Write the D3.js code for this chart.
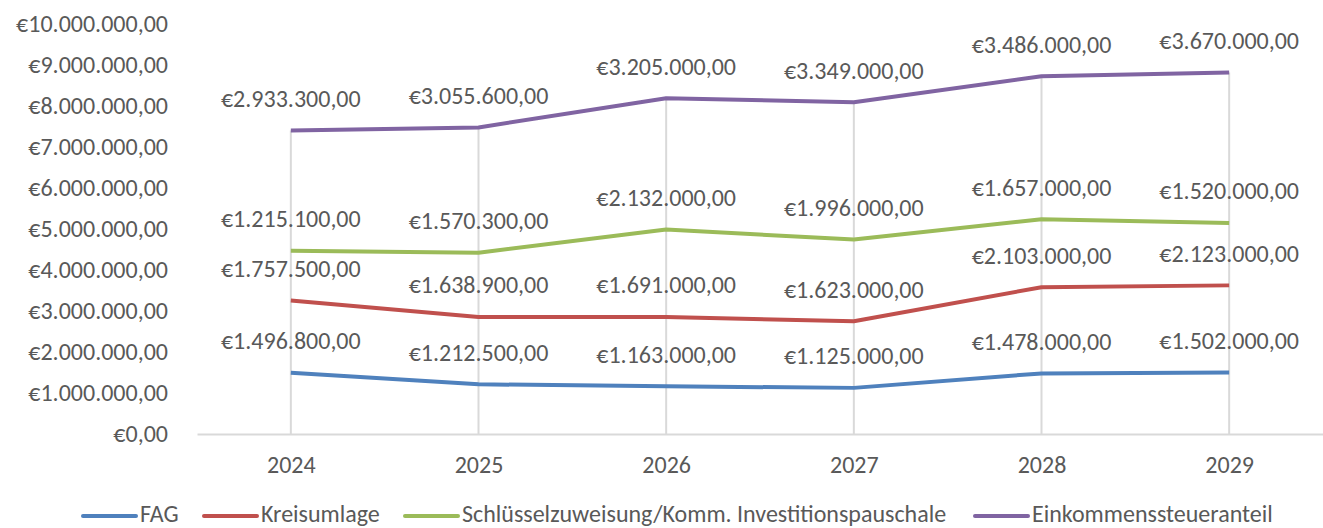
<!DOCTYPE html>
<html>
<head>
<meta charset="utf-8">
<script src="https://cdn.jsdelivr.net/npm/d3@7"></script>
<style>
  body { margin: 0; background: #fff; }
  svg { display: block; font-family: Carlito, Lato, "Open Sans", sans-serif; }
</style>
</head>
<body>
<div id="chart"></div>
<script>
// categories and series (stacked line chart, labels show each series' own value)
const years = ["2024", "2025", "2026", "2027", "2028", "2029"];
const fag = [1496800, 1212500, 1163000, 1125000, 1478000, 1502000];
const kreis = [1757500, 1638900, 1691000, 1623000, 2103000, 2123000];
const schluessel = [1215100, 1570300, 2132000, 1996000, 1657000, 1520000];
const einkommen = [2933300, 3055600, 3205000, 3349000, 3486000, 3670000];
const yTicks = [0, 1e6, 2e6, 3e6, 4e6, 5e6, 6e6, 7e6, 8e6, 9e6, 1e7];

const series = [
  { name: "FAG", vals: fag, c: "#4F81BD" },
  { name: "Kreisumlage", vals: kreis, c: "#C0504D" },
  { name: "Schlüsselzuweisung/Komm. Investitionspauschale", vals: schluessel, c: "#9BBB59" },
  { name: "Einkommenssteueranteil", vals: einkommen, c: "#8064A2" },
];

const loc = d3.formatLocale({ decimal: ",", thousands: ".", grouping: [3], currency: ["€", ""] });
const fmt = loc.format("$,.2f");

const FS = "24px";
const W = 1323, H = 528,
  M = { t: 24, r: 0, b: 94, l: 197 },
  w = W - M.l - M.r,
  h = H - M.t - M.b;

const svg = d3.select("#chart").append("svg").attr("width", W).attr("height", H);
const g = svg.append("g").attr("transform", `translate(${M.l},${M.t})`);

const x = d3.scalePoint().domain(years).range([0, w]).padding(0.5);
const y = d3.scaleLinear().domain([0, 1e7]).range([h, 0]);

// stacking
const stack = years.map((yr, i) => {
  let acc = 0;
  return series.map((s) => (acc += s.vals[i]));
});

// y axis labels
g.append("g")
  .call(d3.axisLeft(y).tickValues(yTicks).tickFormat(fmt).tickSize(0).tickPadding(29))
  .call((a) => a.select(".domain").remove())
  .selectAll("text")
  .attr("fill", "#595959")
  .style("font-size", FS)
  .style("font-family", "Carlito, Lato, 'Open Sans', sans-serif");

// drop lines
years.forEach((yr, i) => {
  g.append("line")
    .attr("x1", x(yr)).attr("x2", x(yr))
    .attr("y1", h).attr("y2", y(stack[i][series.length - 1]))
    .attr("stroke", "#D9D9D9").attr("stroke-width", 2);
});

// x axis
g.append("g")
  .attr("transform", `translate(0,${h})`)
  .call(d3.axisBottom(x).tickSize(0).tickPadding(22))
  .call((a) => a.select(".domain").attr("stroke", "#D9D9D9").attr("stroke-width", 2))
  .selectAll("text")
  .attr("fill", "#595959")
  .style("font-size", FS)
  .style("font-family", "Carlito, Lato, 'Open Sans', sans-serif");

// lines
const line = d3.line().x((d) => x(d.yr)).y((d) => y(d.v));
series.forEach((s, si) => {
  const pts = years.map((yr, i) => ({ yr, v: stack[i][si], raw: s.vals[i] }));
  g.append("path")
    .datum(pts)
    .attr("d", line)
    .attr("fill", "none")
    .attr("stroke", s.c)
    .attr("stroke-width", 4)
    .attr("stroke-linejoin", "round");
  g.selectAll(null)
    .data(pts)
    .enter()
    .append("text")
    .attr("x", (d) => x(d.yr))
    .attr("y", (d) => y(d.v) - 32)
    .attr("dy", "0.35em")
    .attr("text-anchor", "middle")
    .attr("fill", "#595959")
    .style("font-size", FS)
    .text((d) => fmt(d.raw));
});

// legend
const legX = [83, 204, 405, 975];
const leg = svg.append("g").attr("transform", `translate(0,514)`);
series.forEach((s, i) => {
  const it = leg.append("g").attr("transform", `translate(${legX[i]},0)`);
  it.append("line").attr("x1", 0).attr("x2", 53).attr("y1", 2).attr("y2", 2)
    .attr("stroke", s.c).attr("stroke-width", 4).attr("stroke-linecap", "round");
  it.append("text").attr("x", 57).attr("dy", "0.35em")
    .attr("fill", "#595959").style("font-size", FS).text(s.name);
});
</script>
</body>
</html>
